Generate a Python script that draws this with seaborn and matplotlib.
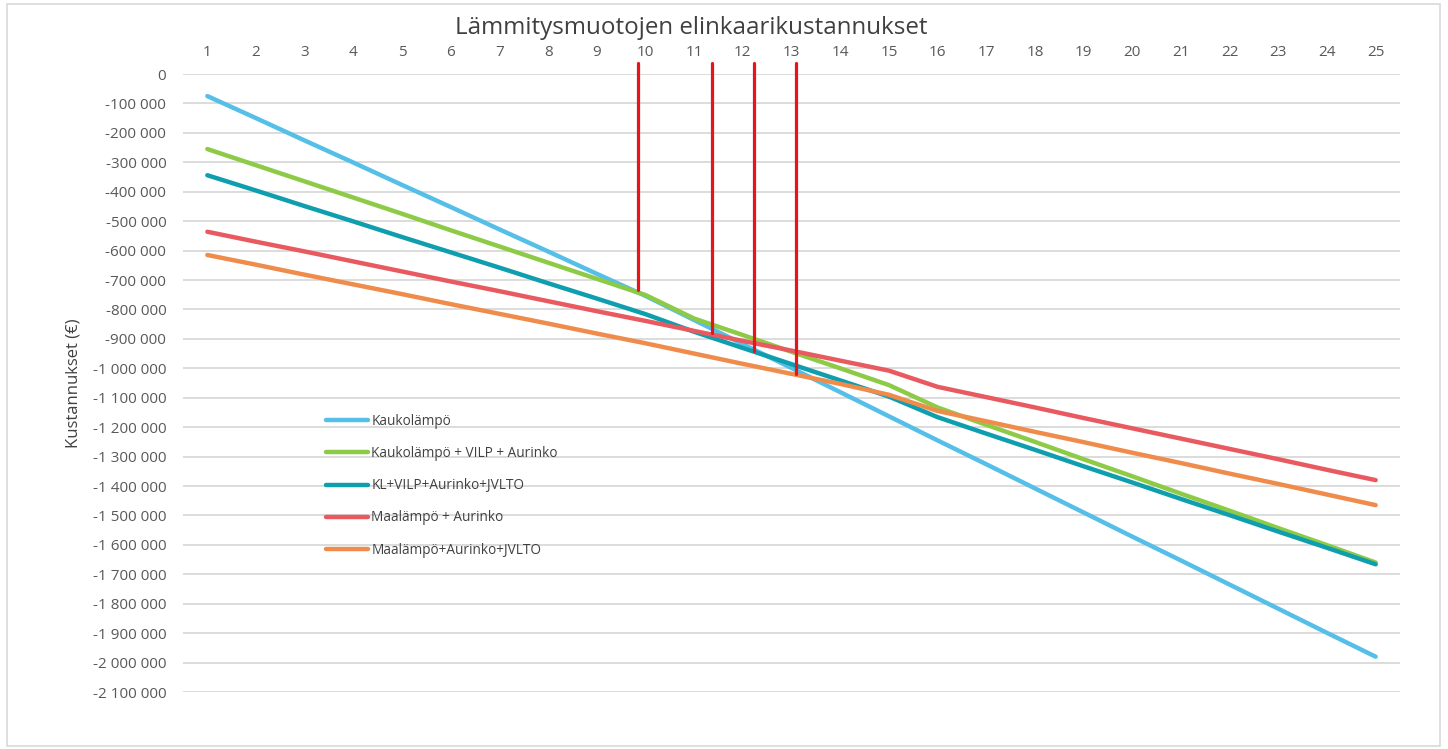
import pandas as pd
import numpy as np
import matplotlib.pyplot as plt
import seaborn as sns
from matplotlib.ticker import FuncFormatter, MultipleLocator
import matplotlib.patches as mpatches

# Data (euros)
years = list(range(1, 26))

kaukolampo = [-75000, -150000, -226000, -301000, -377000, -452000, -528000, -603000, -679000, -754000,
              -836000, -918000, -999000, -1081000, -1163000, -1245000, -1326000, -1408000, -1490000,
              -1572000, -1653000, -1735000, -1817000, -1899000, -1980000]
kl_vilp_aurinko = [-255000, -310000, -365000, -420000, -475000, -531000, -586000, -641000, -696000, -751000,
                   -831000, -887000, -944000, -1000000, -1057000, -1133000, -1192000, -1250000, -1309000,
                   -1367000, -1426000, -1484000, -1543000, -1601000, -1660000]
kl_vilp_aurinko_jvlto = [-344000, -396000, -449000, -501000, -554000, -606000, -658000, -711000, -763000, -816000,
                         -876000, -931000, -986000, -1041000, -1096000, -1166000, -1222000, -1277000, -1333000,
                         -1388000, -1444000, -1499000, -1555000, -1610000, -1666000]
maalampo_aurinko = [-536000, -570000, -603000, -637000, -671000, -705000, -738000, -772000, -806000, -839000,
                    -873000, -907000, -940000, -974000, -1008000, -1063000, -1098000, -1133000, -1169000,
                    -1204000, -1239000, -1274000, -1309000, -1345000, -1380000]
maalampo_aurinko_jvlto = [-615000, -648000, -682000, -715000, -748000, -782000, -815000, -848000, -882000, -915000,
                          -950000, -985000, -1019000, -1053000, -1090000, -1145000, -1180000, -1216000, -1251000,
                          -1287000, -1322000, -1358000, -1393000, -1429000, -1465000]

series_names = ['Kaukolämpö', 'Kaukolämpö + VILP + Aurinko', 'KL+VILP+Aurinko+JVLTO',
                'Maalämpö + Aurinko', 'Maalämpö+Aurinko+JVLTO']
series_values = [kaukolampo, kl_vilp_aurinko, kl_vilp_aurinko_jvlto, maalampo_aurinko, maalampo_aurinko_jvlto]
colors = ['#56BFE8', '#8DCB47', '#0E9EAE', '#E85A5F', '#F08C4B']

# Red break-even markers (year position, bottom value)
marker_x = [9.85, 11.37, 12.23, 13.09]
marker_bottom = [-734000, -881000, -941000, -1020000]
marker_top = 38000

# Long-form table for seaborn
df = pd.DataFrame({
    'Vuosi': np.tile(years, len(series_names)),
    'Kustannukset': np.concatenate(series_values),
    'Muoto': np.repeat(series_names, len(years)),
})

sns.set_style('white')
plt.rcParams['font.family'] = ['Open Sans', 'DejaVu Sans']

fig = plt.figure(figsize=(14.48, 7.49), dpi=100)
ax = fig.add_axes([183 / 1448, 1 - 692 / 749, (1400 - 183) / 1448, (692 - 74) / 749])

sns.lineplot(data=df, x='Vuosi', y='Kustannukset', hue='Muoto', palette=dict(zip(series_names, colors)),
             hue_order=series_names, linewidth=3.2, solid_capstyle='round', ax=ax, zorder=3)

# vertical red lines
for xv, yb in zip(marker_x, marker_bottom):
    ax.plot([xv, xv], [marker_top, yb], color='#E8141C', linewidth=2.3, clip_on=False, zorder=4)

ax.set_xlim(0.5, 25.5)
ax.set_ylim(-2100000, 0)
ax.xaxis.tick_top()
ax.set_xticks(years)
ax.yaxis.set_major_locator(MultipleLocator(100000))
ax.yaxis.set_major_formatter(FuncFormatter(lambda v, p: f'{v:,.0f}'.replace(',', ' ')))
ax.tick_params(axis='both', length=0, labelsize=11, labelcolor='#595959')
ax.tick_params(axis='x', pad=10)
ax.tick_params(axis='y', pad=12)
ax.grid(axis='y', color='#D9D9D9', linewidth=1.3)
ax.grid(axis='x', visible=False)
for s in ax.spines.values():
    s.set_visible(False)

ax.set_xlabel('')
ax.set_ylabel('Kustannukset (€)', fontsize=12, color='#404040', labelpad=8)

handles, labels = ax.get_legend_handles_labels()
fig.legend(handles, labels, loc='upper left', bbox_to_anchor=(326 / 1448, 1 - 414 / 749), frameon=False,
           fontsize=9.8, labelcolor='#404040', handlelength=3.1, handletextpad=0.22, labelspacing=1.26,
           borderpad=0, borderaxespad=0)
ax.get_legend().remove()

fig.text(691 / 1448, 1 - 28 / 749, 'Lämmitysmuotojen elinkaarikustannukset', ha='center', va='center',
         fontsize=17.4, color='#404040')

# chart border
fig.patches.append(mpatches.Rectangle((7 / 1448, 1 - 746 / 749), 1433 / 1448, 742 / 749, transform=fig.transFigure,
                                      fill=False, edgecolor='#D9D9D9', linewidth=1.2))

plt.savefig('out.png', dpi=100)
